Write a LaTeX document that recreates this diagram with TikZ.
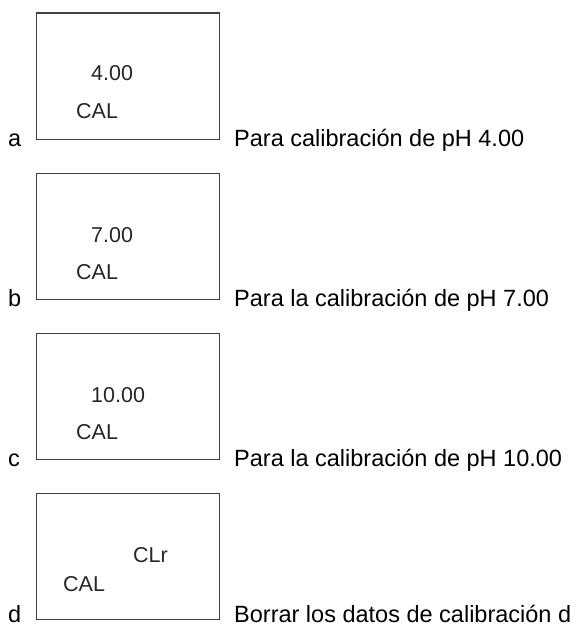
\documentclass[tikz,border=0pt]{standalone}
\usepackage{fontspec}
\setmainfont{Liberation Sans}
\definecolor{boxgray}{HTML}{404040}
\definecolor{segcol}{HTML}{262626}
\begin{document}
\begin{tikzpicture}[x=1pt,y=-1pt,
  lcd/.style={draw=boxgray, line width=1.7pt, minimum width=183pt, minimum height=126pt, inner sep=0pt, anchor=north west},
  seg/.style={anchor=base west, inner sep=0pt, font=\fontsize{21.5}{22}\selectfont, text=segcol},
  lbl/.style={anchor=base west, inner sep=0pt, font=\fontsize{23.5}{24}\selectfont}]
\useasboundingbox (0,0) rectangle (571,626);
% row a
\node[lcd] (boxa) at (35.5,12.5) {};
\node[seg] (vala) at (91,81) {4.00};
\node[seg] (cala) at (76,118) {CAL};
\node[lbl] (la) at (8,146.5) {a};
\node[lbl] (ta) at (234,146.5) {Para calibración de pH 4.00};
% row b
\node[lcd] (boxb) at (35.5,172.5) {};
\node[seg] (valb) at (91,242) {7.00};
\node[seg] (calb) at (76,279) {CAL};
\node[lbl] (lb) at (8,306.5) {b};
\node[lbl] (tb) at (234,306.5) {Para la calibración de pH 7.00};
% row c
\node[lcd] (boxc) at (35.5,332.5) {};
\node[seg] (valc) at (91,402) {10.00};
\node[seg] (calc) at (76,439) {CAL};
\node[lbl] (lc) at (8,466.5) {c};
\node[lbl] (tc) at (234,466.5) {Para la calibración de pH 10.00};
% row d
\node[lcd] (boxd) at (35.5,492.5) {};
\node[seg] (vald) at (133,562) {CLr};
\node[seg] (cald) at (63,591) {CAL};
\node[lbl] (ld) at (8,622) {d};
\node[lbl] (td) at (234,622) {Borrar los datos de calibración d};
\end{tikzpicture}
\end{document}
